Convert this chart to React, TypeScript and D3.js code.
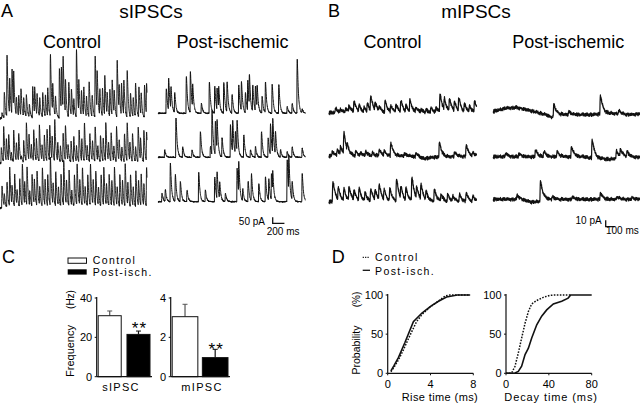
import React from 'react';
import * as d3 from 'd3';

// ---------- Trace events: [time (ms), amplitude (pA)] ----------
const sCtrl1: [number, number][] = [[29,42],[68,209],[114,514],[160,292],[200,375],[228,306],[274,153],[314,181],[353,222],[399,153],[445,181],[496,111],[553,264],[587,222],[627,181],[673,153],[724,209],[770,181],[809,236],[855,514],[895,236],[941,167],[1009,417],[1043,361],[1072,431],[1112,278],[1169,292],[1214,222],[1254,139],[1300,556],[1340,264],[1385,209],[1425,236],[1471,167],[1516,292],[1568,181],[1619,514],[1653,320],[1699,222],[1744,236],[1784,334],[1824,181],[1870,222],[1910,292],[1944,181],[1995,473],[2029,209],[2069,264],[2109,292],[2166,389],[2223,195],[2269,153],[2309,278],[2366,250],[2405,181],[2462,264],[2497,250]];
const sCtrl2: [number, number][] = [[17,125],[57,292],[103,181],[143,222],[188,70],[228,264],[274,153],[314,236],[359,42],[399,181],[445,320],[490,209],[530,125],[570,264],[616,181],[667,306],[713,125],[752,209],[798,264],[844,292],[884,195],[929,348],[980,153],[1026,125],[1072,236],[1112,292],[1157,125],[1208,167],[1254,209],[1300,125],[1345,264],[1391,181],[1436,320],[1482,125],[1528,236],[1573,167],[1619,292],[1664,125],[1710,222],[1756,195],[1801,320],[1847,153],[1892,236],[1938,125],[1984,292],[2029,167],[2075,125],[2120,236],[2166,320],[2212,153],[2257,236],[2309,125],[2354,292],[2394,181],[2451,264],[2497,236]];
const sCtrl3: [number, number][] = [[29,181],[68,97],[114,209],[160,320],[200,153],[245,264],[285,125],[331,236],[376,348],[416,181],[456,320],[502,125],[542,264],[581,209],[627,292],[673,153],[718,320],[764,209],[809,264],[855,403],[901,181],[946,292],[992,153],[1037,264],[1083,375],[1129,209],[1174,292],[1220,125],[1265,264],[1311,348],[1357,209],[1402,320],[1448,153],[1493,264],[1539,348],[1585,209],[1630,292],[1676,153],[1721,264],[1767,320],[1813,181],[1858,264],[1904,209],[1949,320],[1995,153],[2041,264],[2086,209],[2132,348],[2177,181],[2223,264],[2269,153],[2314,292],[2360,209],[2405,264],[2451,181],[2497,320]];
const sPost1: [number, number][] = [[131,208],[171,264],[211,181],[274,167],[473,306],[542,339],[581,195],[730,83],[866,264],[958,228],[998,181],[1026,167],[1112,259],[1169,250],[1254,153],[1368,236],[1414,242],[1482,167],[1522,256],[1550,256],[1607,222],[1653,208],[1682,181],[1767,139],[1824,256],[1938,242],[2052,236],[2195,56],[2280,83],[2366,450],[2451,28]];
const sPost2: [number, number][] = [[103,61],[296,325],[410,89],[570,61],[713,214],[884,89],[912,367],[969,284],[998,242],[1083,158],[1226,270],[1265,270],[1311,186],[1340,256],[1454,186],[1568,61],[1653,89],[1756,214],[1870,158],[1910,256],[1949,284],[1995,186],[2081,61],[2195,47],[2280,89],[2451,75]];
const sPost3: [number, number][] = [[57,70],[114,97],[200,320],[285,222],[371,167],[485,97],[684,250],[798,97],[958,209],[998,222],[1043,139],[1140,70],[1340,278],[1368,264],[1436,97],[1528,167],[1585,222],[1710,153],[1824,209],[1881,181],[1927,222],[1949,167],[2195,348],[2223,292],[2280,153],[2451,236]];

const mCtrl1: [number, number][] = [[67,6.7],[122,4.1],[178,6.7],[215,9.2],[270,16.9],[326,9.2],[381,6.7],[418,11.8],[455,22],[503,11.8],[548,6.7],[614,16.9],[677,9.2],[733,11.8],[788,16.9],[844,9.2],[888,16.9],[955,6.7],[1010,4.1],[1066,4.1],[1121,6.7],[1177,6.7],[1221,27],[1269,16.9],[1325,19.5],[1380,14.4],[1428,19.5],[1491,11.8],[1547,9.2],[1602,16.9]];
const mCtrl2: [number, number][] = [[30,6.7],[85,9.2],[122,11.8],[159,32],[196,9.2],[289,6.7],[344,4.1],[400,6.7],[474,4.1],[548,9.2],[603,6.7],[677,19.5],[825,4.1],[955,6.7],[1214,22],[1380,6.7],[1510,17],[1584,4.1]];
const mCtrl3: [number, number][] = [[37,31],[96,18],[159,18],[215,20.5],[270,15.4],[326,18],[392,12.8],[455,18],[503,15.4],[548,23],[603,15.4],[666,18],[740,33],[788,18],[844,18],[910,36],[962,18],[1010,23],[1066,12.8],[1158,18],[1232,10.3],[1306,10.3],[1362,7.7],[1436,10.3],[1510,12.8],[1584,7.7]];
const mPost1: [number, number][] = [[666,18],[832,5],[1184,28],[1387,5]];
const mPost2: [number, number][] = [[130,5],[278,5],[462,10],[555,7.7],[703,7.7],[862,15.4],[1092,28],[1362,11.3],[1406,10.3],[1480,7.7]];
const mPost3: [number, number][] = [[259,6.7],[518,27],[648,4],[870,4],[1184,9.2],[1369,4],[1536,3]];

// slow baseline wander: [time (ms), offset (pA)]
const mCtrl2Drift: [number, number][] = [[0,0],[900,0],[1050,-4],[1150,-2],[1630,0]];
const mPost1Drift: [number, number][] = [[0,3],[150,8],[260,9],[420,4],[600,-3],[650,-6],[720,-2],[1100,-2],[1300,0],[1500,-2],[1630,-1]];
const mPost2Drift: [number, number][] = [[0,0],[1000,0],[1150,-3],[1300,-4],[1450,0],[1630,-1]];
const mPost3Drift: [number, number][] = [[0,0],[300,0],[420,-4],[500,-4],[530,0],[1630,0]];

// recorded baseline-noise sample (normalised)
const noiseA = [0.3,-0.8,0.5,1.0,-0.2,-1.0,0.7,0.1,-0.6,0.9,-0.4,0.2,-0.9,0.6,-0.1,0.8,-0.7,0.4,-0.3,1.0,-0.5,0.0,0.6,-0.8,0.3,-0.2,0.9,-1.0,0.5,-0.4,0.1,0.7,-0.6,0.2,-0.9,0.8,-0.3];
const noiseB = [-0.4,0.6,0.1,-0.9,0.8,-0.2,0.3,-0.7,1.0,-0.5,0.0,0.5,-1.0,0.7,-0.3,0.2,-0.6,0.9,-0.1,0.4,-0.8,0.6,-0.2];

// ---------- Panel C ----------
const groups = ['Control', 'Post-isch.'];
const sFreq = [31.0, 21.5];
const sFreqSem = [2.4, 1.7];
const mFreq = [3.05, 0.97];
const mFreqSem = [0.63, 0.42];
const sTicks = [0, 20, 40];
const mTicks = [0, 2, 4];

// ---------- Panel D: cumulative probability [x, %] ----------
const riseCtrl: [number, number][] = [[0.3,2],[0.6,8],[1.0,17],[1.47,30],[2.1,49],[2.7,66],[3.2,75],[4.0,85],[4.9,94],[5.4,99],[5.8,100],[7.7,100]];
const risePost: [number, number][] = [[0.3,3],[0.6,10],[1.0,20],[1.6,39],[2.4,66],[3.2,77],[4.0,85.5],[4.75,92],[5.5,97.4],[6.5,100],[7.7,100]];
const decayCtrl: [number, number][] = [[0,0],[5.3,0.4],[8.4,9],[11.5,26],[14.6,45],[17.8,64],[20.9,79],[24,88.5],[28.7,93],[34.9,97],[41,99.6],[45.8,100],[60,100]];
const decayPost: [number, number][] = [[0,0],[8.4,0.4],[11.5,2.5],[14.6,9],[17.8,24],[20.9,32],[24,45],[28.7,62],[33.3,73],[38,81],[44.2,88.5],[52,92],[58,96],[60.4,100],[80,100]];
const riseTicks = [0, 4, 8];
const decayTicks = [0, 40, 80];
const probTicks = [0, 50, 100];

function synth(events: [number, number][], tMax: number, tauR: number, tauD: number, noiseAmp: number, drift?: [number, number][]) {
  const dt = 2;
  const tp = Math.log(tauD / tauR) * tauR * tauD / (tauD - tauR);
  const norm = Math.exp(-tp / tauD) - Math.exp(-tp / tauR);
  const driftScale = drift ? d3.scaleLinear(drift.map(d => d[0]), drift.map(d => d[1])).clamp(true) : null;
  const out: [number, number][] = [];
  let i = 0;
  for (let t = 0; t <= tMax; t += dt, i++) {
    let v = 0;
    for (const [te, a] of events) {
      const s = t - te;
      if (s > 0 && s < tauD * 8) v += a * (Math.exp(-s / tauD) - Math.exp(-s / tauR)) / norm;
    }
    v += noiseAmp * 0.6 * (noiseA[i % noiseA.length] + noiseB[(i * 7) % noiseB.length]);
    if (driftScale) v += driftScale(t);
    out.push([t, v]);
  }
  return out;
}

const FONT = "'Liberation Sans', Arial, Helvetica, sans-serif";

function Trace({ data, x0, width, tMax, base, pxPerUnit, sw }: any) {
  const x = d3.scaleLinear([0, tMax], [x0, x0 + width]);
  const y = d3.scaleLinear([0, 1], [base, base - pxPerUnit]);
  const line = d3.line<[number, number]>().x(d => x(d[0])).y(d => y(d[1]));
  return <path d={line(data) || ''} fill="none" stroke="#111" strokeWidth={sw} strokeLinejoin="round" />;
}

function BarChart({ values, sems, ticks, x0, x1, label, labelX, star, starBaseline, padInner }: any) {
  const yTop = 298, yBot = 376.7;
  const y = d3.scaleLinear([0, ticks[ticks.length - 1]], [yBot, yTop]);
  const xb = d3.scaleBand(groups, [x0 + 1.5, x1]).paddingInner(padInner);
  const ts = { fontFamily: FONT, fontSize: 11 } as any;
  return (
    <g>
      {values.map((v: number, i: number) => {
        const bx = xb(groups[i])!;
        const cx = bx + xb.bandwidth() / 2;
        return (
          <g key={i}>
            <line x1={cx} x2={cx} y1={y(v)} y2={y(v + sems[i])} stroke={i === 0 ? '#555' : '#111'} strokeWidth={1.2} />
            <line x1={cx - 2.5} x2={cx + 2.5} y1={y(v + sems[i])} y2={y(v + sems[i])} stroke={i === 0 ? '#555' : '#111'} strokeWidth={1} />
            <rect x={bx} y={y(v)} width={xb.bandwidth()} height={yBot - y(v)} fill={i === 0 ? '#fff' : '#000'} stroke="#111" strokeWidth={1} />
          </g>
        );
      })}
      <line x1={x0} x2={x0} y1={yTop - 1} y2={yBot} stroke="#111" strokeWidth={1.2} />
      <line x1={x0} x2={x1 + 2} y1={yBot} y2={yBot} stroke="#111" strokeWidth={1.2} />
      {ticks.map((t: number) => (
        <g key={t}>
          <line x1={x0 - 2} x2={x0} y1={y(t)} y2={y(t)} stroke="#111" strokeWidth={1} />
          <text x={x0 - 4.5} y={y(t)} dy="0.36em" textAnchor="end" style={ts}>{t}</text>
        </g>
      ))}
      <text x={labelX} y={390.7} textAnchor="middle" style={{ ...ts, letterSpacing: 1.3 }}>{label}</text>
      <text x={xb(groups[1])! + xb.bandwidth() / 2 + 1} y={starBaseline} textAnchor="middle" style={{ fontFamily: FONT, fontSize: 17, letterSpacing: 1 }}>{star}</text>
    </g>
  );
}

function CdfChart({ ctrl, post, xMax, xTicks, x0, x1, label, labelX, ls }: any) {
  const y = d3.scaleLinear([0, 100], [373.3, 295]);
  const x = d3.scaleLinear([0, xMax], [x0, x1]);
  const line = d3.line<[number, number]>().x(d => x(d[0])).y(d => y(d[1]));
  const ts = { fontFamily: FONT, fontSize: 11 } as any;
  return (
    <g>
      <line x1={x0} x2={x0} y1={294} y2={373.3} stroke="#111" strokeWidth={1.2} />
      <line x1={x0} x2={x1} y1={373.3} y2={373.3} stroke="#111" strokeWidth={1.2} />
      {probTicks.map(t => (
        <g key={t}>
          <line x1={x0 - 2} x2={x0} y1={y(t)} y2={y(t)} stroke="#111" />
          <text x={x0 - 4.5} y={y(t)} dy="0.36em" textAnchor="end" style={ts}>{t}</text>
        </g>
      ))}
      {xTicks.map((t: number) => (
        <g key={t}>
          <line x1={x(t)} x2={x(t)} y1={373.3} y2={375.3} stroke="#111" />
          <text x={x(t)} y={387.5} textAnchor="middle" style={ts}>{t}</text>
        </g>
      ))}
      <path d={line(ctrl) || ''} fill="none" stroke="#111" strokeWidth={1.5} strokeDasharray="1.6,1.4" />
      <path d={line(post) || ''} fill="none" stroke="#111" strokeWidth={1.6} />
      <text x={labelX} y={400.7} style={{ ...ts, letterSpacing: ls }}>{label}</text>
    </g>
  );
}

export default function App() {
  const sMax = 2510, mMax = 1630;
  const sPx = 6 / 50, mPx = 6.5 / 10;
  const sC = [sCtrl1, sCtrl2, sCtrl3].map(e => synth(e, sMax, 3, 16, 8));
  const sP = [sPost1, sPost2, sPost3].map(e => synth(e, sMax, 3, 18, 6));
  const mN = 2.6;
  const mC = [synth(mCtrl1, mMax, 3, 26, mN), synth(mCtrl2, mMax, 3, 26, mN, mCtrl2Drift), synth(mCtrl3, mMax, 3, 26, mN)];
  const mP = [synth(mPost1, mMax, 3, 26, mN, mPost1Drift), synth(mPost2, mMax, 3, 26, mN, mPost2Drift), synth(mPost3, mMax, 3, 26, mN, mPost3Drift)];
  const sCBase = [118.3, 163, 208];
  const sPBase = [113.3, 157.3, 201.7];
  const mCBase = [112.7, 156, 201.7];
  const mPBase = [113.3, 156.7, 199.3];
  const sx = d3.scaleLinear([0, sMax], [0, 147]);
  const mx = d3.scaleLinear([0, mMax], [0, 147]);
  const big = { fontFamily: FONT, fontSize: 18 } as any;
  const title = { fontFamily: FONT, fontSize: 19 } as any;
  const small = { fontFamily: FONT, fontSize: 10 } as any;
  const legendTxt = { fontFamily: FONT, fontSize: 10.5, letterSpacing: 1.4 } as any;
  return (
    <svg width={640} height={404} style={{ position: 'absolute', left: 0, top: 0, background: '#fff' }}>
      {/* Panel A */}
      <text x={1} y={16.5} style={big}>A</text>
      <text x={151} y={17.5} textAnchor="middle" style={title}>sIPSCs</text>
      <text x={72} y={47.7} textAnchor="middle" style={big}>Control</text>
      <text x={232.5} y={47.7} textAnchor="middle" style={big}>Post-ischemic</text>
      {sC.map((d, i) => <Trace key={'sc' + i} data={d} x0={0} width={147} tMax={sMax} base={sCBase[i]} pxPerUnit={sPx} sw={0.9} />)}
      {sP.map((d, i) => <Trace key={'sp' + i} data={d} x0={158.3} width={147} tMax={sMax} base={sPBase[i]} pxPerUnit={sPx} sw={1} />)}
      <path d={`M272.7,${223.3 - 50 * sPx}V223.3H${272.7 + sx(200)}`} fill="none" stroke="#111" strokeWidth={1.3} />
      <text x={265} y={224.5} textAnchor="end" style={small}>50 pA</text>
      <text x={266.7} y={235} style={small}>200 ms</text>

      {/* Panel B */}
      <text x={328} y={16.5} style={big}>B</text>
      <text x={476} y={17.5} textAnchor="middle" style={title}>mIPSCs</text>
      <text x={392.5} y={47.7} textAnchor="middle" style={big}>Control</text>
      <text x={568.3} y={47.7} textAnchor="middle" style={big}>Post-ischemic</text>
      {mC.map((d, i) => <Trace key={'mc' + i} data={d} x0={329} width={147.5} tMax={mMax} base={mCBase[i]} pxPerUnit={mPx} sw={1.2} />)}
      {mP.map((d, i) => <Trace key={'mp' + i} data={d} x0={493.3} width={146.7} tMax={mMax} base={mPBase[i]} pxPerUnit={mPx} sw={1.2} />)}
      <path d={`M605.7,${226.7 - 10 * mPx}V226.7H${605.7 + mx(100)}`} fill="none" stroke="#111" strokeWidth={1.3} />
      <text x={601.7} y={224} textAnchor="end" style={small}>10 pA</text>
      <text x={606} y={233.5} style={small}>100 ms</text>

      {/* Panel C */}
      <text x={2} y={263} style={{ ...big, fontWeight: 300 }}>C</text>
      <rect x={68} y={258} width={18.5} height={5.3} fill="#fff" stroke="#111" strokeWidth={1} />
      <rect x={67.7} y={269.3} width={19} height={5.3} fill="#000" />
      <text x={92.7} y={264.3} style={legendTxt}>Control</text>
      <text x={92.7} y={275.7} style={legendTxt}>Post-isch.</text>
      <text transform="translate(73.5,351) rotate(-90)" textAnchor="middle" style={{ fontFamily: FONT, fontSize: 11 }}>Frequency</text>
      <text transform="translate(73.5,299.5) rotate(-90)" textAnchor="middle" style={{ fontFamily: FONT, fontSize: 10 }}>(Hz)</text>
      <BarChart values={sFreq} sems={sFreqSem} ticks={sTicks} x0={96.7} x1={150} label="sIPSC" labelX={121} star="**" starBaseline={334} padInner={0.2} />
      <BarChart values={mFreq} sems={mFreqSem} ticks={mTicks} x0={170.7} x1={228} label="mIPSC" labelX={202} star="**" starBaseline={355} padInner={0.15} />

      {/* Panel D */}
      <text x={331.7} y={263.3} style={{ ...big, fontWeight: 300 }}>D</text>
      <line x1={362.7} x2={368.7} y1={257.3} y2={257.3} stroke="#111" strokeWidth={1.3} strokeDasharray="1.2,1.2" />
      <line x1={362.7} x2={370} y1={270.3} y2={270.3} stroke="#111" strokeWidth={1.3} />
      <text x={375} y={261} style={legendTxt}>Control</text>
      <text x={375} y={275} style={legendTxt}>Post-isch.</text>
      <text transform="translate(359.5,350) rotate(-90)" textAnchor="middle" style={{ fontFamily: FONT, fontSize: 10.5 }}>Probability</text>
      <text transform="translate(359.5,299.5) rotate(-90)" textAnchor="middle" style={{ fontFamily: FONT, fontSize: 10 }}>(%)</text>
      <CdfChart ctrl={riseCtrl} post={risePost} xMax={8} xTicks={riseTicks} x0={387.7} x1={473.3} label="Rise time (ms)" labelX={401.7} ls={0.4} />
      <CdfChart ctrl={decayCtrl} post={decayPost} xMax={80} xTicks={decayTicks} x0={506} x1={591.7} label="Decay time (ms)" labelX={504.3} ls={0.9} />
    </svg>
  );
}
